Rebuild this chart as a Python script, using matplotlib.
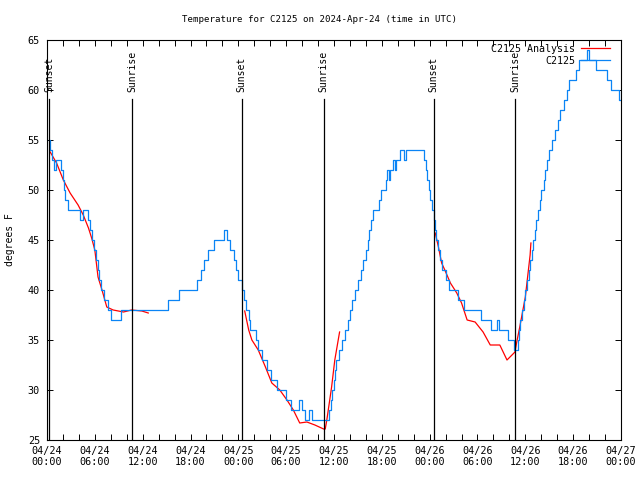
import matplotlib
matplotlib.use("Agg")
import matplotlib.pyplot as plt
import numpy as np

# ---- data (hours since 04/24 00:00 UTC) ----
obs_hours = [0.28, 0.35, 0.6, 0.9, 1.13, 1.8, 2.0, 2.15, 2.3, 2.6, 4.2, 4.55, 5.2, 5.45, 5.7, 5.95,
             6.2, 6.4, 6.55, 6.8, 7.2, 7.6, 8.0, 9.3, 15.2, 16.6, 18.8, 19.3, 19.7, 20.2, 21.0, 22.2,
             22.6, 23.0, 23.4, 23.7, 24.0, 24.4, 24.7, 25.0, 25.3, 25.5, 26.2, 26.5, 27.0, 27.6, 28.1,
             28.9, 30.0, 30.6, 31.6, 32.0, 32.4, 32.9, 33.2, 35.4, 35.6, 35.8, 35.95, 36.1, 36.3, 36.6,
             37.0, 37.4, 37.75, 38.0, 38.3, 38.6, 39.0, 39.4, 39.7, 40.0, 40.25, 40.45, 40.65, 40.85,
             41.6, 41.9, 42.5, 42.7, 42.85, 43.0, 43.4, 43.6, 43.8, 44.3, 44.8, 45.0, 47.3, 47.5, 47.7,
             47.9, 48.1, 48.3, 48.5, 48.7, 48.85, 49.0, 49.3, 49.6, 50.0, 50.4, 51.5, 52.3, 54.4, 55.7,
             56.4, 56.7, 57.8, 58.6, 59.05, 59.2, 59.35, 59.6, 59.8, 60.0, 60.2, 60.4, 60.6, 60.8, 61.0,
             61.2, 61.4, 61.6, 61.8, 62.0, 62.3, 62.5, 62.7, 62.95, 63.3, 63.7, 64.1, 64.4, 64.8, 65.2,
             65.5, 66.3, 66.7, 67.7, 67.95, 68.9, 70.3, 70.7, 71.8, 71.95]
obs_temps = [55, 54, 53, 52, 53, 52, 51, 50, 49, 48, 47, 48, 47, 46, 45, 44,
             43, 42, 41, 40, 39, 38, 37, 38, 39, 40, 41, 42, 43, 44, 45, 46,
             45, 44, 43, 42, 41, 40, 39, 38, 37, 36, 35, 34, 33, 32, 31,
             30, 29, 28, 29, 28, 27, 28, 27, 28, 29, 30, 31, 32, 33, 34,
             35, 36, 37, 38, 39, 40, 41, 42, 43, 44, 45, 46, 47, 48,
             49, 50, 51, 52, 51, 52, 53, 52, 53, 54, 53, 54, 53, 52, 51,
             50, 49, 48, 47, 46, 45, 44, 43, 42, 41, 40, 39, 38, 37, 36,
             37, 36, 35, 34, 35, 36, 37, 38, 39, 40, 41, 42, 43, 44, 45,
             46, 47, 48, 49, 50, 51, 52, 53, 54, 55, 56, 57, 58, 59, 60,
             61, 62, 63, 64, 63, 62, 61, 60, 59, 59]

ana1_hours = [0.4, 1.2, 2.05, 2.9, 3.9, 4.55, 5.2, 5.6, 6.0, 6.4, 6.9, 7.5, 8.3, 9.6, 10.6, 11.9, 12.7]
ana1_temps = [53.8, 52.7, 51.0, 49.7, 48.5, 47.5, 46.2, 45.2, 44.0, 41.3, 40.0, 38.3, 38.0, 37.8, 38.0, 37.9, 37.7]
ana2_hours = [24.8, 25.3, 25.7, 26.5, 27.4, 28.2, 29.2, 30.1, 30.9, 31.7, 32.6, 33.6, 34.7, 34.9, 35.1, 35.7, 36.1, 36.7]
ana2_temps = [37.9, 36.0, 35.0, 34.0, 32.3, 30.7, 30.0, 29.0, 28.0, 26.7, 26.8, 26.5, 26.1, 26.1, 27.0, 30.3, 33.0, 35.8]
ana3_hours = [48.7, 49.1, 49.5, 49.9, 50.6, 51.4, 52.0, 52.7, 53.7, 54.7, 55.6, 56.8, 57.7, 58.7, 58.9, 59.3, 60.0, 60.6, 60.7]
ana3_temps = [45.7, 44.3, 42.7, 42.0, 40.7, 39.7, 38.7, 37.0, 36.8, 35.8, 34.5, 34.5, 33.0, 33.8, 34.7, 36.3, 39.3, 43.5, 44.7]

event_hours = [0.28, 10.7, 24.4, 34.7, 48.5, 58.7]
event_labels = ["Sunset", "Sunrise", "Sunset", "Sunrise", "Sunset", "Sunrise"]

xtick_hours = [0, 6, 12, 18, 24, 30, 36, 42, 48, 54, 60, 66, 72]
xtick_labels = ["04/24\n00:00", "04/24\n06:00", "04/24\n12:00", "04/24\n18:00",
                "04/25\n00:00", "04/25\n06:00", "04/25\n12:00", "04/25\n18:00",
                "04/26\n00:00", "04/26\n06:00", "04/26\n12:00", "04/26\n18:00",
                "04/27\n00:00"]

FONT = "DejaVu Sans Mono"
FS = 7.3
RED = "#ff0000"
BLUE = "#0a84f5"
LW = 0.9

fig = plt.figure(figsize=(6.4, 4.8), dpi=100)
ax = fig.add_axes([47/640, 1-440/480, (621-47)/640, 400/480])

for h, t in [(ana1_hours, ana1_temps), (ana2_hours, ana2_temps), (ana3_hours, ana3_temps)]:
    ln_red, = ax.plot(h, t, color=RED, lw=LW)
ln_blue, = ax.plot(obs_hours, obs_temps, color=BLUE, lw=LW, drawstyle="steps-post")

for h, lab in zip(event_hours, event_labels):
    ax.plot([h, h], [25, 59.1], color="black", lw=LW)
    ax.text(h, 59.8, lab, rotation=90, ha="center", va="bottom",
            family=FONT, fontsize=7)

ax.set_xlim(0, 72)
ax.set_ylim(25, 65)
ax.set_xticks(xtick_hours)
ax.set_xticklabels(xtick_labels, family=FONT, fontsize=FS)
ax.set_xticks(np.arange(0, 73, 2), minor=True)
ax.set_yticks(np.arange(25, 66, 5))
ax.set_yticklabels([str(v) for v in range(25, 66, 5)], family=FONT, fontsize=FS)
ax.tick_params(which="both", direction="in", top=True, right=True, length=4.5, width=0.7, pad=4)
ax.tick_params(axis="y", pad=5)
for s in ax.spines.values():
    s.set_linewidth(0.8)

ax.set_ylabel("degrees F", family=FONT, fontsize=7, labelpad=9)
ax.set_title("Temperature for C2125 on 2024-Apr-24 (time in UTC)", family=FONT,
             fontsize=6.6, pad=13, x=(320-47)/574)

leg = ax.legend([ln_red, ln_blue], ["C2125 Analysis", "C2125"], loc="upper right",
                bbox_to_anchor=(1 - 11/574, 1 - 4/400),
                frameon=False, markerfirst=False, prop={"family": FONT, "size": 7.2},
                handlelength=2.9, handletextpad=0.6, labelspacing=0.2,
                borderaxespad=0.0, borderpad=0.0)

fig.savefig("out.png", dpi=100)
